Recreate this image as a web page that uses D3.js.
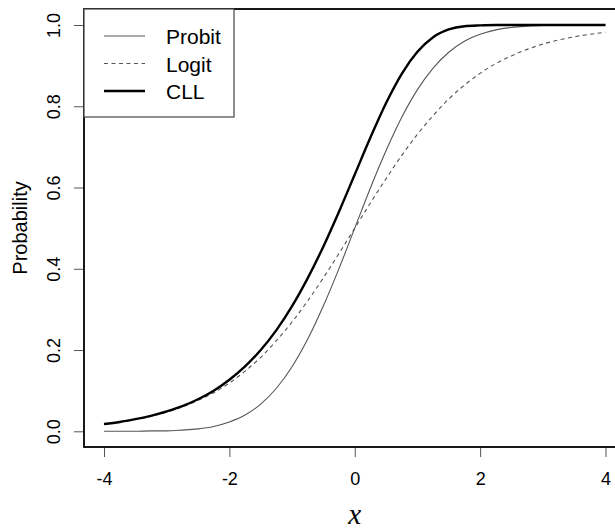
<!DOCTYPE html>
<html>
<head>
<meta charset="utf-8">
<script src="https://cdn.jsdelivr.net/npm/d3@7"></script>
<style>
  body { margin: 0; background: #fff; }
  svg { display: block; }
  text { font-family: "Liberation Sans", Arial, sans-serif; fill: #000; }
</style>
</head>
<body>
<svg id="chart" width="615" height="530"></svg>
<script>
// x values (step 0.25) and curve values
var xs = [-4, -3.75, -3.5, -3.25, -3, -2.75, -2.5, -2.25, -2, -1.75, -1.5, -1.25, -1, -0.75, -0.5, -0.25,
          0, 0.25, 0.5, 0.75, 1, 1.25, 1.5, 1.75, 2, 2.25, 2.5, 2.75, 3, 3.25, 3.5, 3.75, 4];

var probit = [0.000, 0.000, 0.000, 0.001, 0.001, 0.003, 0.006, 0.012, 0.023, 0.040, 0.067, 0.106, 0.159, 0.227, 0.309, 0.401,
              0.500, 0.599, 0.691, 0.773, 0.841, 0.894, 0.933, 0.960, 0.977, 0.988, 0.994, 0.997, 0.999, 0.999, 1.000, 1.000, 1.000];

var logit = [0.018, 0.023, 0.029, 0.037, 0.047, 0.060, 0.076, 0.095, 0.119, 0.148, 0.182, 0.223, 0.269, 0.321, 0.378, 0.438,
             0.500, 0.562, 0.622, 0.679, 0.731, 0.777, 0.818, 0.852, 0.881, 0.905, 0.924, 0.940, 0.953, 0.963, 0.971, 0.977, 0.982];

var cll = [0.018, 0.023, 0.030, 0.038, 0.049, 0.062, 0.079, 0.100, 0.127, 0.160, 0.200, 0.249, 0.308, 0.377, 0.455, 0.541,
           0.632, 0.723, 0.808, 0.880, 0.934, 0.970, 0.989, 0.997, 0.999, 1.000, 1.000, 1.000, 1.000, 1.000, 1.000, 1.000, 1.000];

var xTicks = [-4, -2, 0, 2, 4];
var yTicks = [0.0, 0.2, 0.4, 0.6, 0.8, 1.0];
var legendNames = ["Probit", "Logit", "CLL"];

var svg = d3.select("#chart");

// plot frame (R style, 4% padding on each side)
var frameLeft = 84, frameTop = 9, frameBottom = 447;
var x = d3.scaleLinear().domain([-4, 4]).range([104, 605.5]);
var y = d3.scaleLinear().domain([0, 1]).range([431.3, 25]);
var frameRight = x(4.32);

var seriesStyle = [
  { vals: probit, stroke: "#555", width: 1.1, dash: null },
  { vals: logit,  stroke: "#555", width: 1.1, dash: "4,3.5" },
  { vals: cll,    stroke: "#000", width: 2.4, dash: null }
];

var line = d3.line()
  .x(function(d) { return x(d[0]); })
  .y(function(d) { return y(d[1]); })
  .curve(d3.curveMonotoneX);

seriesStyle.forEach(function(s) {
  svg.append("path")
    .attr("d", line(xs.map(function(v, i) { return [v, s.vals[i]]; })))
    .attr("fill", "none")
    .attr("stroke", s.stroke)
    .attr("stroke-width", s.width)
    .attr("stroke-dasharray", s.dash);
});

// axes
var xAxis = d3.axisBottom(x).tickValues(xTicks).tickSize(10).tickPadding(15)
  .tickFormat(function(d) { return d; });
var gx = svg.append("g").attr("transform", "translate(0," + frameBottom + ")").call(xAxis);
gx.select(".domain").remove();
gx.selectAll("line").attr("stroke", "#555");
gx.selectAll("text").style("font-size", "18px").attr("font-family", null);

var yAxis = d3.axisLeft(y).tickValues(yTicks).tickSize(10)
  .tickFormat(d3.format(".1f"));
var gy = svg.append("g").attr("transform", "translate(" + frameLeft + ",0)").call(yAxis);
gy.select(".domain").remove();
gy.selectAll("line").attr("stroke", "#555");
gy.selectAll("text")
  .style("font-size", "18px")
  .attr("font-family", null)
  .attr("text-anchor", "middle")
  .attr("dy", null)
  .attr("x", null)
  .attr("y", null)
  .attr("transform", "translate(-24,0) rotate(-90)");

// frame
svg.append("rect")
  .attr("x", frameLeft).attr("y", frameTop)
  .attr("width", frameRight - frameLeft).attr("height", frameBottom - frameTop)
  .attr("fill", "none").attr("stroke", "#000").attr("stroke-width", 1.8);

// axis titles
svg.append("text")
  .attr("transform", "translate(27," + ((frameTop + frameBottom) / 2) + ") rotate(-90)")
  .attr("text-anchor", "middle")
  .style("font-size", "20px")
  .text("Probability");

svg.append("text")
  .attr("x", x(0)).attr("y", 524)
  .attr("text-anchor", "middle")
  .style("font-family", "'Liberation Serif', 'DejaVu Serif', serif")
  .style("font-style", "italic")
  .style("font-size", "29px")
  .text("x");

// legend
var lg = svg.append("g");
lg.append("rect")
  .attr("x", frameLeft).attr("y", frameTop)
  .attr("width", 150).attr("height", 108)
  .attr("fill", "#fff").attr("stroke", "#444").attr("stroke-width", 1.2);

legendNames.forEach(function(name, i) {
  var s = seriesStyle[i];
  var ly = 36 + i * 27.5;
  lg.append("line")
    .attr("x1", 104).attr("x2", 145)
    .attr("y1", ly).attr("y2", ly)
    .attr("stroke", s.stroke)
    .attr("stroke-width", s.width)
    .attr("stroke-dasharray", s.dash);
  lg.append("text")
    .attr("x", 166).attr("y", ly + 8)
    .style("font-size", "21px")
    .text(name);
});
</script>
</body>
</html>
